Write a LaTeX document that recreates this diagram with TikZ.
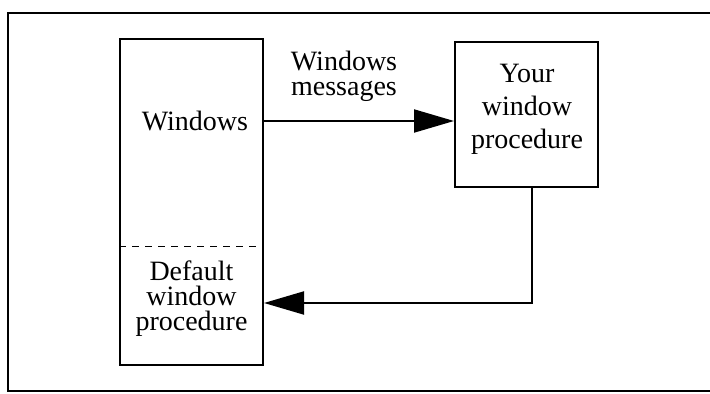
\documentclass[tikz,border=0pt]{standalone}
\usepackage{fontspec}
\setmainfont{Liberation Serif}
\usepackage{tikz}
\usetikzlibrary{arrows.meta,positioning,calc}

\begin{document}
\begin{tikzpicture}[
  x=0.5pt,y=-0.5pt,
  font=\fontsize{14}{12.5}\selectfont,
  box/.style={draw=black,line width=1pt,minimum width=71.5pt,inner sep=0pt},
  label/.style={align=center,inner sep=0pt},
  arrow/.style={-{Triangle[length=20pt,width=11.5pt]},draw=black,line width=1pt}
]
\useasboundingbox (0,0) rectangle (710,394);
% frame, open at the right edge
\draw[line width=1pt] (710,13) -- (8,13) -- (8,391) -- (710,391);
\node[box,minimum height=163pt] (winbox) at (191.5,202) {};
\node[box,minimum height=72.5pt] (yourbox) at (526.5,114.5) {};
\draw[dashed,line width=0.4pt,dash pattern=on 3.5pt off 3pt] (winbox.west |- 0,246) -- (winbox.east |- 0,246);
\node[label] (winlabel) at (195,121) {Windows};
\node[label] (deflabel) at (191.5,299) {Default\\window\\procedure};
\node[label,font=\fontsize{14}{16.5}\selectfont] (yourlabel) at (527,109) {Your\\window\\procedure};
\node[label] (msglabel) at (344,76) {Windows\\messages};
\coordinate (turn) at (532,303);
\draw[arrow] (winbox.east |- winlabel) -- (yourbox.west |- winlabel);
\draw[arrow] (turn |- yourbox.south) -- (turn) -- (winbox.east |- turn);
\end{tikzpicture}
\end{document}
